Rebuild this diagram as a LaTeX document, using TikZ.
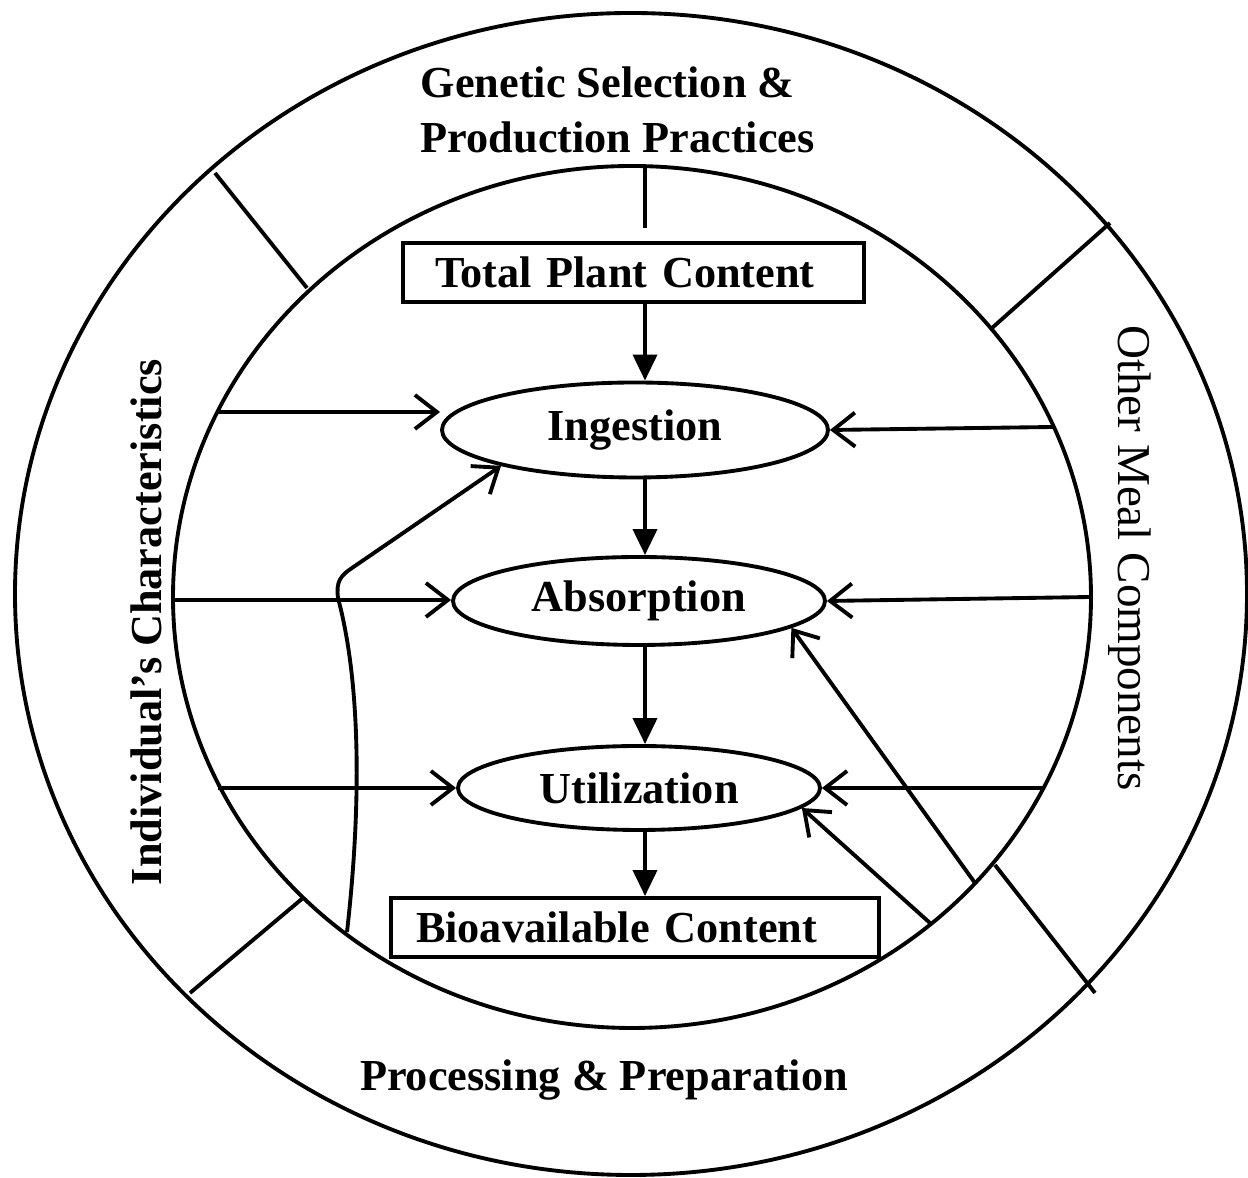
\documentclass[tikz,border=0pt]{standalone}
\usepackage{fontspec}
\setmainfont{Liberation Serif}
\usetikzlibrary{shapes.geometric, arrows.meta, positioning, calc}

\tikzset{
  ring/.style={line width=1.1pt},
  proc/.style={ellipse, draw, line width=1.1pt, inner sep=0pt, font=\fontsize{12.6}{15}\selectfont\bfseries},
  stock/.style={rectangle, draw, line width=1.1pt, inner ysep=0pt, align=left, minimum height=5.9mm, font=\fontsize{12.6}{15}\selectfont\bfseries},
  ringtext/.style={inner sep=0pt, font=\fontsize{12.6}{15.6}\selectfont\bfseries},
  flow/.style={line width=1.1pt, -{Triangle[length=2.6mm,width=2.4mm]}},
  feed/.style={line width=1.1pt, -{Straight Barb[length=2.2mm,width=3.4mm]}}
}

\begin{document}
\begin{tikzpicture}[x=0.1mm, y=-0.1mm]
    \useasboundingbox (0,0) rectangle (1248,1178);

    % Anelli
    \draw[ring] (631,594) ellipse [x radius=616, y radius=581];
    \draw[ring] (632,597) ellipse [x radius=459, y radius=431];

    % Separatori dei settori
    \draw[ring] (215,173) -- (307,288);
    \draw[ring] (1110,223) -- (992,328);
    \draw[ring] (303,898) -- (190,993);
    \draw[ring] (995,865) -- (1095,993);

    % Etichette dei settori
    \node[ringtext, anchor=north west, align=left] (genetic) at (420,66) {Genetic Selection \&\\Production Practices};
    \node[ringtext, anchor=base] (processing) at (604,1091) {Processing \& Preparation};
    \node[ringtext, rotate=90, anchor=base] (individual) at (162,622) {Individual's Characteristics};
    \node[ringtext, font=\fontsize{13.4}{16}\selectfont, rotate=-90, anchor=base] (meal) at (1118,558) {Other Meal Components};

    % Catena centrale
    \node[stock, inner xsep=3.2mm, text width=39.7mm] (plant) at (633.5,272.5) {Total Plant Content};
    \node[proc, minimum width=38.6mm, minimum height=9.5mm] (ingest) at (635,430) {Ingestion};
    \node[proc, minimum width=37.2mm, minimum height=8.8mm] (absorb) at (639,601) {Absorption};
    \node[proc, minimum width=36.2mm, minimum height=8.4mm] (utilize) at (639,788) {Utilization};
    \node[stock, inner xsep=2.5mm, text width=43.8mm] (bio) at (635,927.5) {Bioavailable Content};

    \coordinate (col) at (645,0);
    \coordinate (gtop) at (645,165);
    \coordinate (gend) at (645,228);
    \draw[ring] (gtop) -- (gend);
    \draw[flow] (plant.south -| col) -- (ingest.north -| col);
    \draw[flow] (ingest.south -| col) -- (absorb.north -| col);
    \draw[flow] (absorb.south -| col) -- (utilize.north -| col);
    \draw[flow] (utilize.south -| col) -- (bio.north -| col);

    % Caratteristiche individuali
    \coordinate (ic1) at (218,412);
    \coordinate (ic2) at (173,600);
    \coordinate (ic3) at (218,788);
    \draw[feed] (ic1) -- (ic1 -| ingest.west);
    \draw[feed] (ic2) -- (ic2 -| absorb.west);
    \draw[feed] (ic3) -- (ic3 -| utilize.west);

    % Altri componenti del pasto
    \coordinate (om1) at (1053,427);
    \coordinate (om2) at (1091,597);
    \coordinate (om3) at (1045,788);
    \draw[feed] (om1) -- (ingest.east);
    \draw[feed] (om2) -- (absorb.east);
    \draw[feed] (om3) -- (utilize.east);

    % Trasformazione e preparazione
    \coordinate (pp1) at (347,932);
    \coordinate (pp2) at (975,883);
    \coordinate (pp3) at (930,923);
    \draw[feed] (pp1) .. controls (362,800) and (360,680) .. (338,598) .. controls (336,582) and (340,576) .. (352,568) -- (ingest.195);
    \draw[feed] (pp2) -- (absorb.-10);
    \draw[feed] (pp3) -- (utilize.-7);
\end{tikzpicture}
\end{document}
